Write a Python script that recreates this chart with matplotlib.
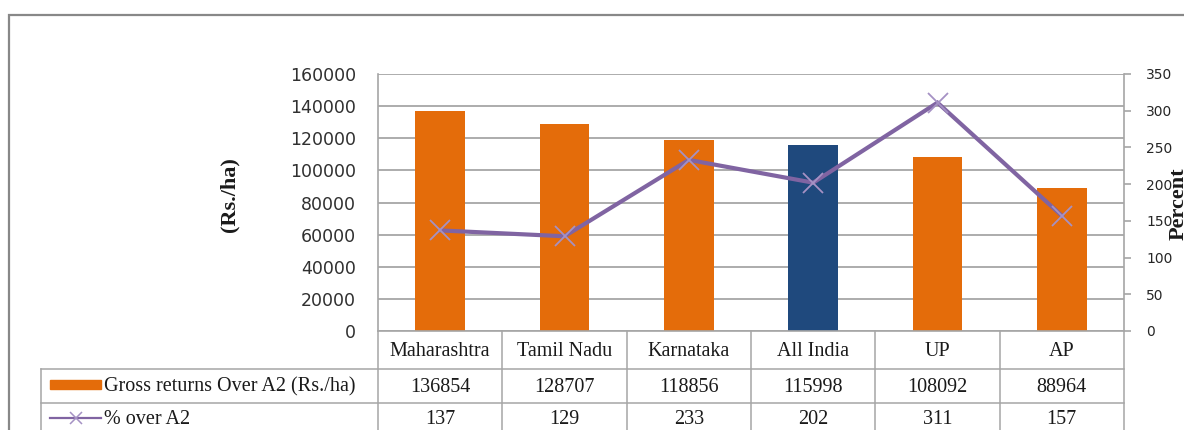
import matplotlib
matplotlib.use('Agg')
import matplotlib.pyplot as plt
from matplotlib.lines import Line2D
from matplotlib.patches import Rectangle
from matplotlib.transforms import blended_transform_factory

# ---------------- data ----------------
categories = ['Maharashtra', 'Tamil Nadu', 'Karnataka', 'All India', 'UP', 'AP']
gross_returns = [136854, 128707, 118856, 115998, 108092, 88964]
pct_over_a2 = [137, 129, 233, 202, 311, 157]
series_names = ['Gross returns Over A2 (Rs./ha)', '% over A2']
left_ticks = [0, 20000, 40000, 60000, 80000, 100000, 120000, 140000, 160000]
right_ticks = [0, 50, 100, 150, 200, 250, 300, 350]
highlight = 'All India'

# ---------------- layout helpers ----------------
W, H = 1184, 430
fig = plt.figure(figsize=(W / 100, H / 100), dpi=100)
fig.patch.set_facecolor('white')


def fx(px):
    return px / W


def fy(py):
    return 1 - py / H


ORANGE = '#E46C0A'
BLUE = '#1F497D'
PURPLE = '#8064A2'
MARKER = '#A591C4'
GRID = '#A6A6A6'
TXT = '#1a1a1a'
SERIF = 'Liberation Serif'

# outer frame
fig.add_artist(Rectangle((fx(9), -0.3), 1.0, fy(15) + 0.3, fill=False,
                         ec='#888888', lw=1.6, transform=fig.transFigure))

# ---------------- main axes ----------------
ax = fig.add_axes([fx(378), fy(331), fx(1124) - fx(378), fy(74) - fy(331)])
xpos = list(range(len(categories)))
colors = [BLUE if c == highlight else ORANGE for c in categories]
ax.bar(xpos, gross_returns, width=0.4, color=colors, zorder=2)
ax.set_xlim(-0.5, len(categories) - 0.5)
ax.set_ylim(left_ticks[0], left_ticks[-1])
ax.set_yticks(left_ticks)
ax.set_yticklabels([str(v) for v in left_ticks], fontsize=12.5,
                   family='DejaVu Sans', color='#303030')
ax.tick_params(axis='y', length=0, pad=16)
ax.set_xticks([])
ax.grid(axis='y', color=GRID, lw=1.3, zorder=0)
ax.set_axisbelow(True)
for s in ['top', 'right']:
    ax.spines[s].set_visible(False)
for s in ['left', 'bottom']:
    ax.spines[s].set_color(GRID)
    ax.spines[s].set_linewidth(1.2)

ax2 = ax.twinx()
ax2.plot(xpos, pct_over_a2, color=PURPLE, lw=3, marker='x', ms=14,
         mec=MARKER, mew=1.3, zorder=3, solid_joinstyle='miter')
ax2.set_ylim(right_ticks[0], right_ticks[-1])
ax2.set_yticks(right_ticks)
ax2.set_yticklabels([str(v) for v in right_ticks], fontsize=10,
                    family='DejaVu Sans', color='#262626')
ax2.tick_params(axis='y', length=5, width=1.2, color=GRID, pad=11, direction='out')
for s in ['top', 'left', 'bottom']:
    ax2.spines[s].set_visible(False)
ax2.spines['right'].set_color(GRID)
ax2.spines['right'].set_linewidth(1.2)

# axis titles
fig.text(fx(229), fy(195), '(Rs./ha)', rotation=90, ha='center', va='center',
         family=SERIF, weight='bold', fontsize=16, color=TXT)
fig.text(fx(1169), fy(204), 'Percent', rotation=90, ha='left', va='center',
         family=SERIF, weight='bold', fontsize=16, color=TXT)

# ---------------- data table ----------------
tr = blended_transform_factory(ax.transData, fig.transFigure)
n = len(categories)
lkw = dict(color=GRID, lw=1.1)
# vertical column boundaries
for k in range(n + 1):
    fig.add_artist(Line2D([k - 0.5, k - 0.5], [fy(331), fy(445)], transform=tr, **lkw))
# row label column
fig.add_artist(Line2D([fx(41), fx(41)], [fy(369), fy(445)], transform=fig.transFigure, **lkw))
for yy in (369, 403):
    fig.add_artist(Line2D([fx(41), fx(1124)], [fy(yy), fy(yy)], transform=fig.transFigure, **lkw))

tfs = 14.5
for i, c in enumerate(categories):
    fig.text(i, fy(351), c, transform=tr, ha='center', va='center',
             family=SERIF, fontsize=tfs, color=TXT)
    fig.text(i, fy(387), str(gross_returns[i]), transform=tr, ha='center', va='center',
             family=SERIF, fontsize=tfs, color=TXT)
    fig.text(i, fy(420), str(pct_over_a2[i]), transform=tr, ha='center', va='center',
             family=SERIF, fontsize=tfs, color=TXT)

# row labels with legend keys
fig.add_artist(Rectangle((fx(50), fy(389)), fx(101) - fx(50), 9 / H,
                         color=ORANGE, transform=fig.transFigure))
fig.text(fx(104), fy(387), series_names[0], ha='left', va='center',
         family=SERIF, fontsize=tfs, color=TXT)
fig.add_artist(Line2D([fx(50), fx(101)], [fy(418), fy(418)], color=PURPLE, lw=1.6,
                      transform=fig.transFigure))
fig.add_artist(Line2D([fx(75.5)], [fy(418)], marker='x', ms=8, mec=MARKER, mew=1.1,
                      ls='none', transform=fig.transFigure))
fig.text(fx(104), fy(420), series_names[1], ha='left', va='center',
         family=SERIF, fontsize=tfs, color=TXT)

fig.savefig('out.png', dpi=100)
